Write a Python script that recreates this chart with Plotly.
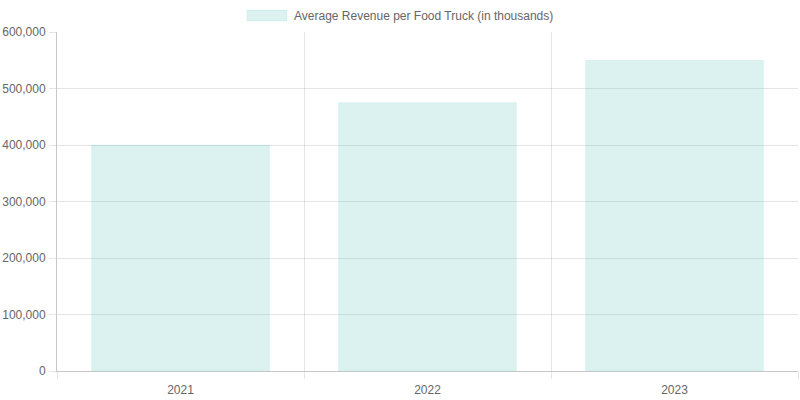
import plotly.graph_objects as go

years = ["2021", "2022", "2023"]
revenue = [400000, 475000, 550000]
series_name = "Average Revenue per Food Truck (in thousands)"

W, H = 800, 400
L, R, T, B = 57, 2, 32, 29
pw, ph = W - L - R, H - T - B

def px_x(px):
    return (px - L) / pw

def px_y(py):
    return (H - B - py) / ph

fig = go.Figure()
fig.add_trace(go.Bar(
    x=years, y=revenue, name=series_name,
    marker=dict(color="rgba(75,192,185,0.2)",
                line=dict(color="rgba(75,192,185,0.1)", width=1)),
    hoverinfo="x+y",
))

font = dict(family="Liberation Sans, Arial, Helvetica, sans-serif", size=12, color="#666")

fig.update_layout(
    width=W, height=H,
    margin=dict(l=L, r=R, t=T, b=B),
    paper_bgcolor="white", plot_bgcolor="white",
    showlegend=False,
    bargap=0.28,
    font=font,
    xaxis=dict(
        type="category", tickson="boundaries", range=[-0.5, 2.5],
        showgrid=True, gridcolor="rgba(0,0,0,0.1)", gridwidth=1,
        showline=True, linecolor="rgba(0,0,0,0.22)", linewidth=1,
        ticks="outside", ticklen=7, tickcolor="rgba(0,0,0,0.1)",
        ticklabelstandoff=8, automargin=False,
        tickfont=font, fixedrange=True,
    ),
    yaxis=dict(
        range=[0, 600000], dtick=100000, tickformat=",",
        showgrid=True, gridcolor="rgba(0,0,0,0.1)", gridwidth=1,
        zeroline=False,
        showline=True, linecolor="rgba(0,0,0,0.22)", linewidth=1,
        ticks="outside", ticklen=7, tickcolor="rgba(0,0,0,0.1)",
        ticklabelstandoff=1, automargin=False,
        tickfont=font, fixedrange=True,
    ),
    shapes=[dict(
        type="rect", xref="paper", yref="paper",
        x0=px_x(247), x1=px_x(287), y0=px_y(21), y1=px_y(10),
        fillcolor="rgba(75,192,185,0.2)",
        line=dict(color="rgba(75,192,185,0.1)", width=1),
    )],
    annotations=[dict(
        text=series_name, xref="paper", yref="paper",
        x=px_x(292), y=px_y(16), xanchor="left", yanchor="middle",
        showarrow=False, font=font,
    )],
)

fig.write_html("out.html", config={"displayModeBar": False},
               post_script="document.body.style.margin='0';")
